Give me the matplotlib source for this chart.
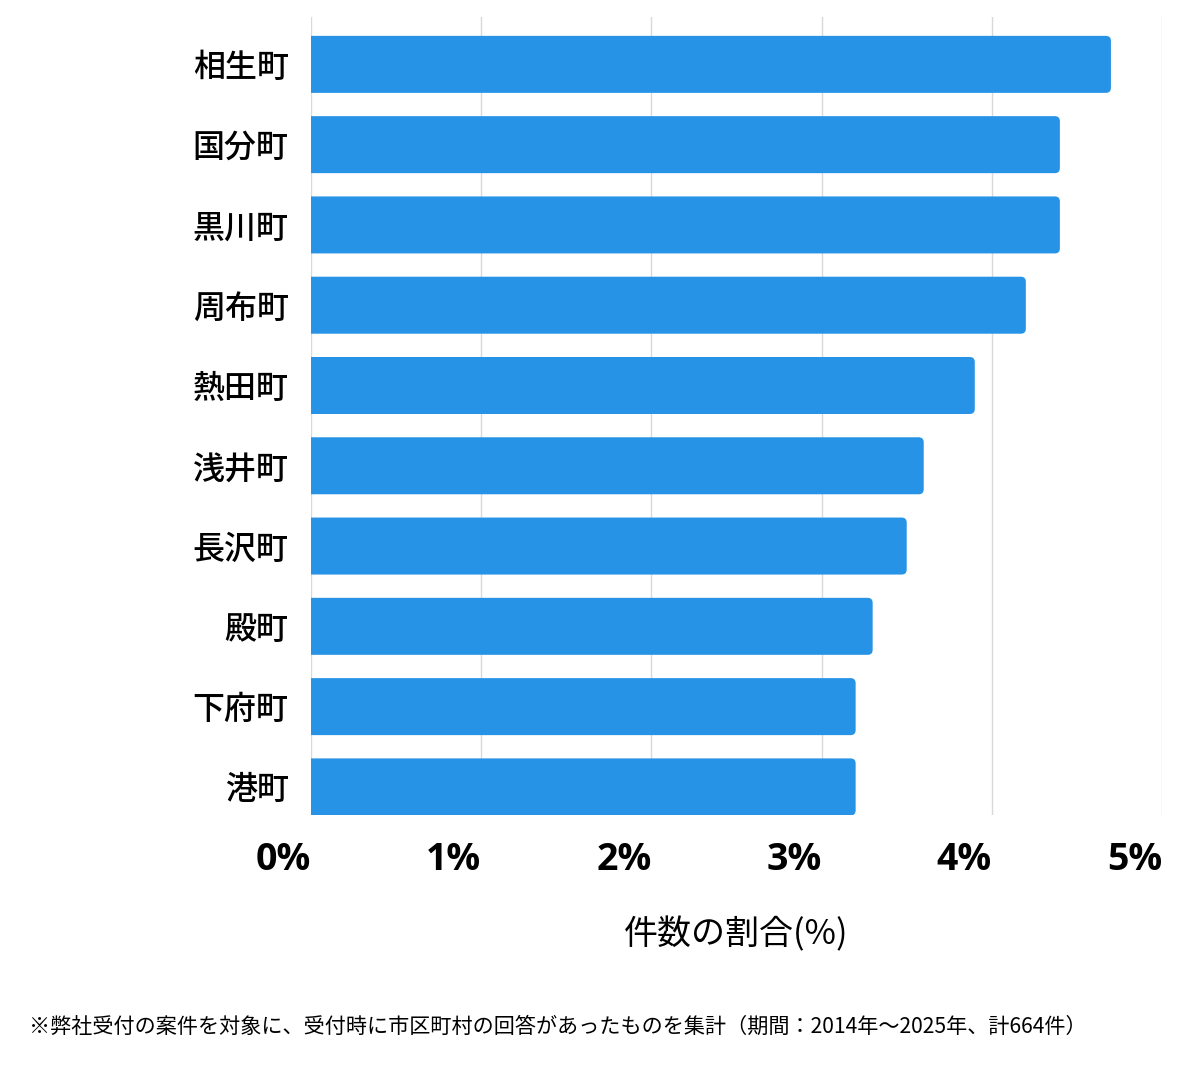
import matplotlib
matplotlib.use("Agg")
import matplotlib.pyplot as plt
from matplotlib.patches import FancyBboxPatch

plt.rcParams['font.family'] = ['Noto Sans CJK JP', 'DejaVu Sans']

categories = ["相生町", "国分町", "黒川町", "周布町", "熱田町", "浅井町", "長沢町", "殿町", "下府町", "港町"]
values = [4.70, 4.40, 4.40, 4.20, 3.90, 3.60, 3.50, 3.30, 3.20, 3.20]
xticks = [0, 1, 2, 3, 4, 5]
xtick_labels = ["0%", "1%", "2%", "3%", "4%", "5%"]
xlabel = "件数の割合(%)"
footnote = "※弊社受付の案件を対象に、受付時に市区町村の回答があったものを集計（期間：2014年～2025年、計664件）"

W, H = 1200, 1069
fig = plt.figure(figsize=(W / 100, H / 100), dpi=100)
ax_left, ax_right = 311 / W, 1162 / W
ax_top, ax_bottom = 17 / H, 815 / H
ax = fig.add_axes([ax_left, 1 - ax_bottom, ax_right - ax_left, ax_bottom - ax_top])

color = "#2793E6"
ypos = list(range(len(categories)))
bars = ax.barh(ypos, values, height=0.71, color=color)

ax.set_xlim(0, 5)
ax.set_ylim(len(categories) - 1 + 0.35, -0.59)

# rounded right corners
px_per_x = (1162 - 311) / 5
px_per_y = (815 - 17) / (len(categories) - 1 + 0.35 + 0.59)
r_px = 5
for b in bars:
    x0, y0 = b.get_x(), b.get_y()
    w, h = b.get_width(), b.get_height()
    b.set_visible(False)
    rs = r_px / px_per_x
    p = FancyBboxPatch((x0 - 0.1, y0), w + 0.1, h,
                       boxstyle=f"round,pad=0,rounding_size={rs}",
                       mutation_aspect=px_per_x / px_per_y,
                       facecolor=color, edgecolor="none", zorder=2)
    ax.add_patch(p)

ax.set_xticks(xticks)
ax.set_xticklabels(xtick_labels, fontsize=27, fontweight="bold",
                   family=['Open Sans', 'DejaVu Sans'], ha="right")
ax.tick_params(axis="x", length=0, pad=19)
ax.set_yticks(ypos)
ax.set_yticklabels(categories, fontsize=23, fontweight="medium")
ax.tick_params(axis="y", length=0, pad=16)

ax.grid(axis="x", color="#d9d9d9", linewidth=1)
ax.set_axisbelow(True)
for s in ax.spines.values():
    s.set_visible(False)

fig.text((311 + 1162) / 2 / W, 1 - 935 / H, xlabel, ha="center", va="center", fontsize=24.5)
fig.text(29 / W, 1 - 1027 / H, footnote, ha="left", va="center", fontsize=15.2)

fig.savefig("out.png", dpi=100, facecolor="white")
